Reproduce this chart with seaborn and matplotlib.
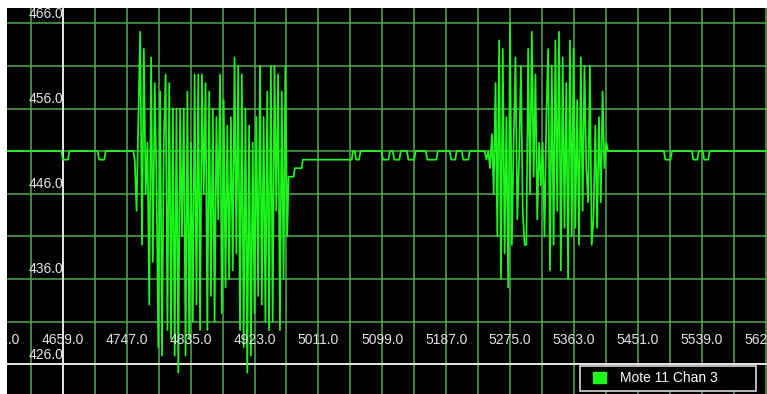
import numpy as np
import pandas as pd
import matplotlib
matplotlib.use("Agg")
import matplotlib.pyplot as plt
from matplotlib.patches import Patch, Rectangle
from matplotlib.legend_handler import HandlerPatch
import seaborn as sns

# Quiet stretches: breakpoints (time, reading)
quiet_a_t = [4580, 4657, 4659, 4666, 4668, 4707, 4709, 4716, 4718, 4756]
quiet_a_v = [451, 451, 450, 450, 451, 451, 450, 450, 451, 451]

quiet_b_t = [4970, 4977, 4978.5, 4988, 4989.5, 5057, 5058.5,
             5061, 5063, 5067, 5069, 5098, 5100, 5107.5, 5109.5,
             5113.5, 5115.5, 5122.5, 5124.5, 5133, 5135, 5143, 5145,
             5159, 5161, 5173.5, 5175.5, 5192, 5194, 5199.5, 5201.5,
             5208.5, 5210.5, 5217.5, 5219.5, 5238]
quiet_b_v = [448, 448, 449, 449, 450, 450, 451,
             451, 450, 450, 451, 451, 450, 450, 451,
             451, 450, 450, 451, 451, 450, 450, 451,
             451, 450, 450, 451, 451, 450, 450, 451,
             451, 450, 450, 451, 451]

quiet_c_t = [5410, 5487, 5489, 5496, 5498, 5525.5, 5527.5, 5533, 5535,
             5540.5, 5542.5, 5548, 5550, 5640]
quiet_c_v = [451, 451, 450, 450, 451, 451, 450, 450, 451,
             451, 450, 450, 451, 451]

# Active bursts, sampled at a fixed period
burst_period = 2.5
burst1_start = 4758
burst1_v = [450, 444, 455, 465, 440, 463, 446, 452, 433, 462,
            438, 459, 447, 428, 458, 427, 452, 460, 430, 459,
            429, 456, 427, 456, 425, 456, 441, 456, 427, 458,
            429, 452, 431, 460, 433, 460, 430, 460, 446, 459,
            430, 458, 434, 456, 431, 455, 443, 460, 432, 457,
            435, 454, 436, 455, 437, 462, 439, 461, 430, 460,
            428, 456, 425, 454, 427, 452, 432, 455, 434, 461,
            433, 455, 431, 458, 430, 461, 431, 461, 444, 460,
            430, 458, 436, 461, 441]
burst2_start = 5240
burst2_v = [451, 450, 451, 449, 453, 446, 459, 441, 464, 436,
            463, 439, 455, 435, 466, 440, 452, 462, 443, 450,
            461, 444, 440, 440, 463, 446, 465, 448, 460, 443,
            452, 447, 452, 441, 455, 463, 437, 461, 440, 464,
            444, 465, 437, 462, 442, 459, 436, 464, 441, 463,
            442, 457, 440, 462, 444, 461, 449, 445, 461, 440,
            443, 454, 442, 455, 445, 458, 449, 452]

x_major = [4571.0, 4659.0, 4747.0, 4835.0, 4923.0, 5011.0, 5099.0,
           5187.0, 5275.0, 5363.0, 5451.0, 5539.0, 5627.0]
y_major = [426.0, 436.0, 446.0, 456.0, 466.0]
y_minor = [431.0, 441.0, 451.0, 461.0]
series_name = "Mote 11 Chan 3"


def burst_times(start, values):
    return [start + burst_period * i for i in range(len(values))]


t = (quiet_a_t + burst_times(burst1_start, burst1_v) + quiet_b_t
     + burst_times(burst2_start, burst2_v) + quiet_c_t)
v = quiet_a_v + burst1_v + quiet_b_v + burst2_v + quiet_c_v
df = pd.DataFrame({"time": t, "reading": v})

sns.set_style("white")
plt.rcParams["font.family"] = ["Liberation Sans", "DejaVu Sans"]

GRID = "#50ab50"
SIGNAL = "#1cf81c"
AXIS = "#e4e4e4"
FS = 10

fig = plt.figure(figsize=(7.67, 3.94), dpi=100, facecolor="white")
ax = fig.add_axes([7 / 767, 0, 760 / 767, 386 / 394])
ax.set_facecolor("black")

sns.lineplot(data=df, x="time", y="reading", ax=ax, color=SIGNAL,
             linewidth=1.25, estimator=None, sort=False, legend=False,
             zorder=3)

# grid every half label step
x_minor = [x + 44 for x in x_major[:-1]]
ax.set_xticks(x_major)
ax.set_xticks(x_minor, minor=True)
ax.set_yticks(y_major)
ax.set_yticks(y_minor, minor=True)
ax.grid(which="both", color=GRID, linewidth=1.1)
ax.set_axisbelow(True)

ax.set_xlim(4582, 5629)
ax.set_ylim(422.5, 467.8)

for s in ["top", "right"]:
    ax.spines[s].set_visible(False)
ax.spines["left"].set_position(("data", 4659))
ax.spines["bottom"].set_position(("data", 426))
for s in ["left", "bottom"]:
    ax.spines[s].set_color(AXIS)
    ax.spines[s].set_linewidth(1.4)
    ax.spines[s].set_zorder(2)

ax.tick_params(which="both", direction="inout", length=13, width=1.2,
               colors=AXIS, labelleft=False, labelbottom=False)
ax.set_xlabel("")
ax.set_ylabel("")

for y in y_major:
    ax.text(4660, y + 0.3, f"{y:.1f}", ha="right", va="bottom",
            color=AXIS, fontsize=FS, zorder=4)
for x in x_major:
    ax.text(x, 428.8, f"{x:.1f}", ha="center", va="center",
            color=AXIS, fontsize=FS, clip_on=True, zorder=4)


def legend_square(legend, orig_handle, xdescent, ydescent, width, height,
                  fontsize):
    inset = 0.35 * width
    return Rectangle((-xdescent + inset, -ydescent), width - inset, height)


handle = Patch(facecolor=SIGNAL, edgecolor=SIGNAL)
leg = ax.legend([handle], [series_name], loc="lower left",
                bbox_to_anchor=(0.754, 0.008, 0.2316, 0.065), mode="expand",
                borderaxespad=0, frameon=True, fancybox=False,
                facecolor="black", edgecolor="#d8d8d8", framealpha=1,
                fontsize=FS, handlelength=1.45, handleheight=0.8,
                handletextpad=1.05, borderpad=0.4, labelcolor="white",
                handler_map={Patch: HandlerPatch(patch_func=legend_square)})
leg.get_frame().set_linewidth(1.2)
leg.set_zorder(5)

fig.savefig("out.png", dpi=100, facecolor="white")
